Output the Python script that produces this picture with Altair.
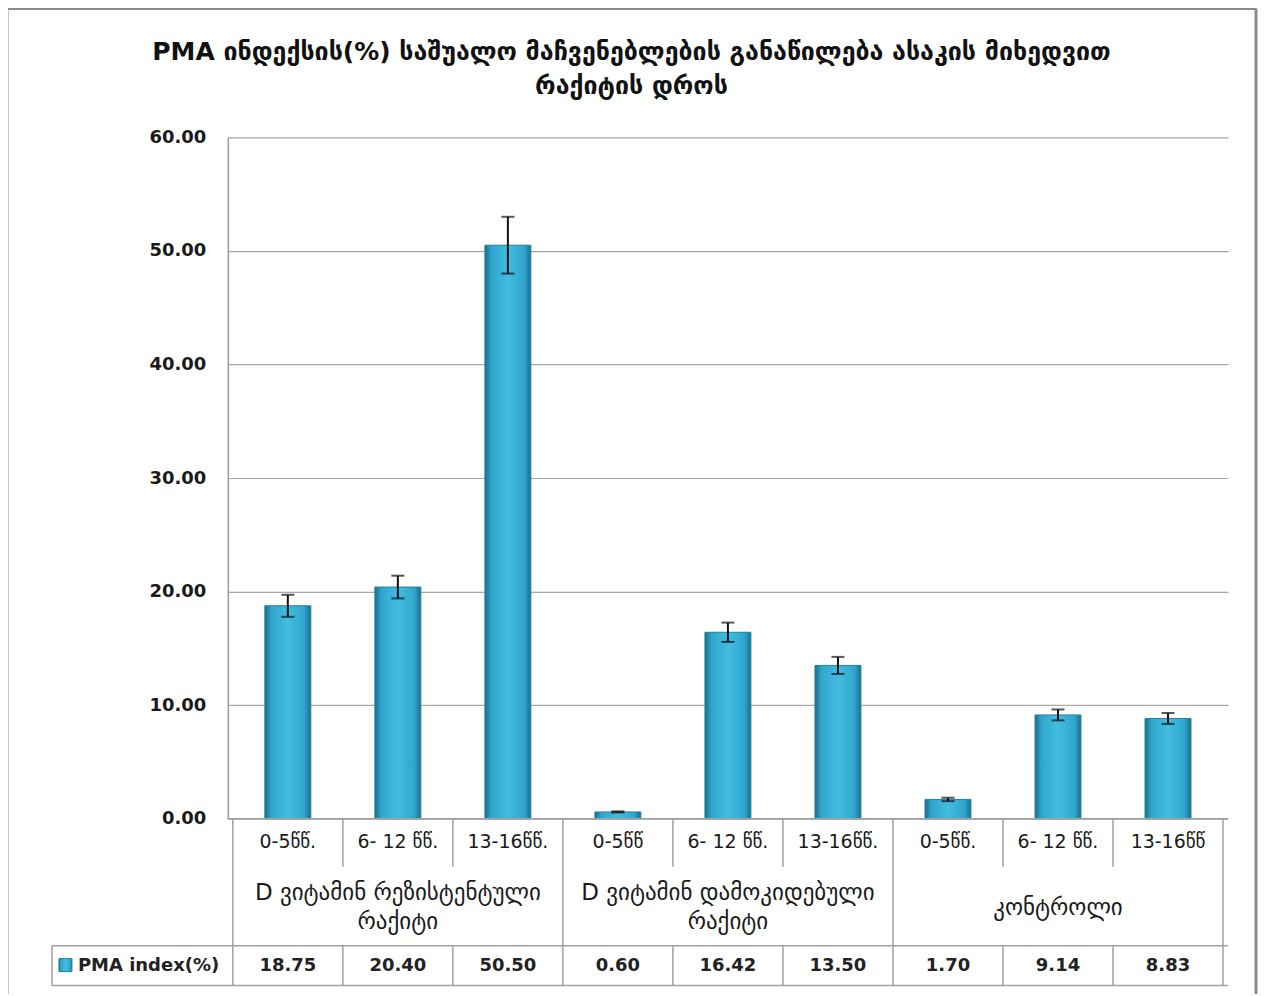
import altair as alt
import pandas as pd

# ---- data ----
title_lines = ["PMA ინდექსის(%) საშუალო მაჩვენებლების განაწილება  ასაკის მიხედვით", "რაქიტის დროს"]
categories = ["0-5წწ.", "6- 12 წწ.", "13-16წწ.", "0-5წწ", "6- 12 წწ.", "13-16წწ.", "0-5წწ.", "6- 12 წწ.", "13-16წწ"]
group_names = [["D ვიტამინ რეზისტენტული", "რაქიტი"], ["D ვიტამინ დამოკიდებული", "რაქიტი"], ["კონტროლი"]]
values = [18.75, 20.40, 50.50, 0.60, 16.42, 13.50, 1.70, 9.14, 8.83]
errors = [0.97, 1.0, 2.5, 0.05, 0.85, 0.75, 0.15, 0.48, 0.48]
series_name = "PMA index(%)"
y_ticks = [0, 10, 20, 30, 40, 50, 60]

FONT = "DejaVu Sans"
W, H = 1001, 682
n = len(categories)

df = pd.DataFrame({
    "pos": [i + 0.5 for i in range(n)],
    "cat": categories,
    "value": values,
    "lo": [v - e for v, e in zip(values, errors)],
    "hi": [v + e for v, e in zip(values, errors)],
    "label": [f"{v:.2f}" for v in values],
})
gdf = pd.DataFrame({"center": [1.5 + 3 * g for g in range(len(group_names))], "name": group_names})
gdf_two = gdf[[len(nm) > 1 for nm in group_names]]
gdf_one = gdf[[len(nm) == 1 for nm in group_names]]
one = pd.DataFrame({"a": [0]})

xs = alt.Scale(domain=[0, n], nice=False, zero=False)
ys = alt.Scale(domain=[0, 60], nice=False)
X = alt.X("pos:Q", scale=xs, axis=None)

grad = alt.Gradient(gradient="linear", x1=0, x2=1, y1=0, y2=0, stops=[
    alt.GradientStop(color="#1b6f8c", offset=0),
    alt.GradientStop(color="#30a5cc", offset=0.14),
    alt.GradientStop(color="#43bde2", offset=0.5),
    alt.GradientStop(color="#30a5cc", offset=0.86),
    alt.GradientStop(color="#1b6f8c", offset=1),
])

bars = alt.Chart(df).mark_bar(fill=grad, size=46, stroke="#25809d", strokeWidth=1).encode(
    x=X,
    y=alt.Y("value:Q", scale=ys, axis=alt.Axis(
        values=y_ticks, format=".2f", title=None, ticks=False, labelPadding=22,
        labelFont=FONT, labelFontSize=18, labelFontWeight="bold", labelColor="#1a1a1a",
        gridColor="#a9a9a9", gridWidth=1.2, domainColor="#9a9a9a", domainWidth=1.5)),
)
err_rule = alt.Chart(df).mark_rule(color="#111111", strokeWidth=2).encode(
    x=X, y=alt.Y("lo:Q", scale=ys), y2="hi:Q")
err_lo = alt.Chart(df).mark_tick(color="#111111", orient="horizontal", size=13, thickness=2).encode(
    x=X, y=alt.Y("lo:Q", scale=ys))
err_hi = alt.Chart(df).mark_tick(color="#111111", orient="horizontal", size=13, thickness=2).encode(
    x=X, y=alt.Y("hi:Q", scale=ys))

LINE = "#a0a0a0"
def hrule(y, x1, x2):
    return alt.Chart(one).mark_rule(color=LINE, strokeWidth=1.5).encode(
        x=alt.value(x1), x2=alt.value(x2), y=alt.value(y))

def vrules(bs, y1, y2):
    return alt.Chart(pd.DataFrame({"b": bs})).mark_rule(color=LINE, strokeWidth=1.5).encode(
        x=alt.X("b:Q", scale=xs, axis=None), y=alt.value(y1), y2=alt.value(y2))

table_lines = [
    hrule(H, 0, W),
    hrule(809, -176, W),
    hrule(849, -176, W),
    alt.Chart(one).mark_rule(color=LINE, strokeWidth=1.5).encode(
        x=alt.value(-176), y=alt.value(809), y2=alt.value(849)),
    vrules([0, 3, 6, 9], H, 849),
    vrules([1, 2, 4, 5, 7, 8], H, 730),
    vrules([1, 2, 4, 5, 7, 8], 809, 849),
]

cat_text = alt.Chart(df).mark_text(font=FONT, fontSize=19, color="#1a1a1a", baseline="middle").encode(
    x=X, y=alt.value(705), text="cat:N")
grp_text2 = alt.Chart(gdf_two).mark_text(font=FONT, fontSize=23, color="#1a1a1a", baseline="middle",
                                         lineHeight=29).encode(
    x=alt.X("center:Q", scale=xs, axis=None), y=alt.value(756), text="name")
grp_text1 = alt.Chart(gdf_one).mark_text(font=FONT, fontSize=23, color="#1a1a1a", baseline="middle",
                                         lineHeight=29).encode(
    x=alt.X("center:Q", scale=xs, axis=None), y=alt.value(771), text="name")
val_text = alt.Chart(df).mark_text(font=FONT, fontSize=18, fontWeight="bold", color="#222222",
                                   baseline="middle").encode(
    x=X, y=alt.value(829), text="label:N")

legend_sq = alt.Chart(one).mark_rect(fill=grad, stroke="#25809d").encode(
    x=alt.value(-169), x2=alt.value(-156), y=alt.value(822), y2=alt.value(835))
legend_tx = alt.Chart(pd.DataFrame({"s": [series_name]})).mark_text(
    font=FONT, fontSize=18, fontWeight="bold", color="#222222", align="left", baseline="middle").encode(
    x=alt.value(-150), y=alt.value(829), text="s:N")

def title_line(txt, y):
    return alt.Chart(pd.DataFrame({"t": [txt]})).mark_text(
        font=FONT, fontSize=25, fontWeight="bold", color="#111111",
        baseline="middle", align="center").encode(
        x=alt.value(404), y=alt.value(y), text="t:N")

titles = [title_line(title_lines[0], -85), title_line(title_lines[1], -51)]

FR = "#8a8a8a"
frame = [
    alt.Chart(one).mark_rule(color=FR, strokeWidth=3).encode(
        x=alt.value(-221), y=alt.value(-129), y2=alt.value(870)),
    alt.Chart(one).mark_rule(color=FR, strokeWidth=3).encode(
        x=alt.value(-221), x2=alt.value(1029), y=alt.value(-129)),
    alt.Chart(one).mark_rule(color=FR, strokeWidth=3).encode(
        x=alt.value(1029), y=alt.value(-129), y2=alt.value(870)),
]

chart = alt.layer(
    *frame, bars, err_rule, err_lo, err_hi, *table_lines,
    cat_text, grp_text2, grp_text1, val_text, legend_sq, legend_tx, *titles,
).properties(
    width=W, height=H,
    autosize=alt.AutoSizeParams(type="none"),
    padding={"left": 220, "top": 129, "right": 31, "bottom": 175},
    background="white",
).configure_view(stroke=None)

chart.save("out.html", embed_options={"renderer": "svg", "actions": False})
